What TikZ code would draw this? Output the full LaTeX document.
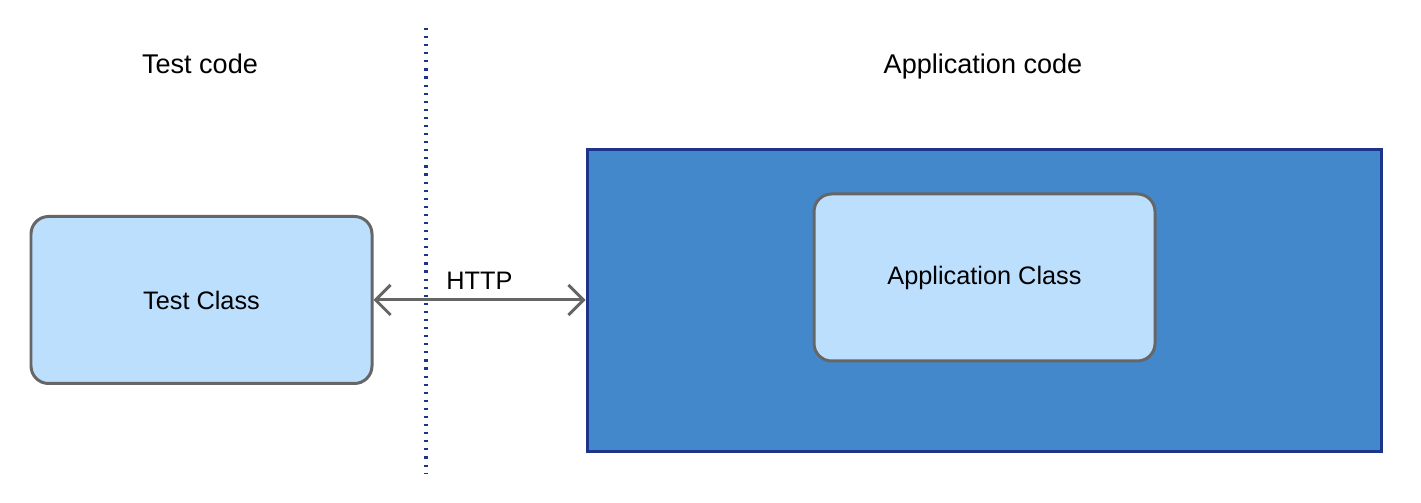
\documentclass[tikz,border=0pt]{standalone}
\usepackage{fontspec}
\setmainfont{Liberation Sans}
\usepackage{tikz}
\usetikzlibrary{arrows.meta,positioning,calc}
\usepackage{xcolor}
\definecolor{paleblue}{RGB}{189,223,254}
\definecolor{appblue}{RGB}{68,136,204}
\definecolor{navy}{RGB}{28,52,138}
\definecolor{inkgray}{RGB}{102,102,102}
\tikzset{
  % ---- boxes ------------------------------------------------------------
  cls/.style={
    rounded corners=5pt, draw=inkgray, line width=0.85pt,
    fill=paleblue, text=black,
    font=\fontsize{7.2}{8.5}\selectfont, align=center,
    minimum width=3.41cm, minimum height=1.67cm},
  layer/.style={
    draw=navy, line width=0.85pt, fill=appblue,
    minimum width=7.94cm, minimum height=3.02cm},
  % ---- arrows -----------------------------------------------------------
  arr/.style={{Straight Barb[length=1.5mm,width=3mm]}-{Straight Barb[length=1.5mm,width=3mm]},
              draw=inkgray, line width=0.85pt},
  % ---- labels -----------------------------------------------------------
  lbl/.style={font=\fontsize{7.2}{8.5}\selectfont, text=black, inner sep=1.5pt},
  head/.style={lbl, font=\fontsize{7.7}{9}\selectfont, anchor=base},
  border/.style={draw=navy, line width=1.1pt, dash pattern=on 0.6pt off 1.7pt},
}
\begin{document}
\begin{tikzpicture}[x=1cm,y=1cm]
\useasboundingbox (0,0) rectangle (14.21,5.03);

% ---- split between test and application side ------------------------------
\coordinate (splittop) at (4.26,4.75);
\coordinate (splitbot) at (4.26,0.30);
\draw[border] (splittop) -- (splitbot);

% ---- headings -------------------------------------------------------------
\node[head] (testhead) at (2.00,4.29) {Test code};
\node[head] (apphead) at (9.83,4.29) {Application code};

% ---- boxes ----------------------------------------------------------------
\node[cls] (testcls) at (2.015,2.03) {Test Class};
\node[layer] (appbox) at (9.84,2.02) {};
\node[cls] (appcls) at (9.845,2.255) {Application Class};

% ---- connector ------------------------------------------------------------
\draw[arr] (testcls.east) -- (testcls.east -| appbox.west)
  node[lbl, midway, above=1pt] (http) {HTTP};

\end{tikzpicture}
\end{document}
